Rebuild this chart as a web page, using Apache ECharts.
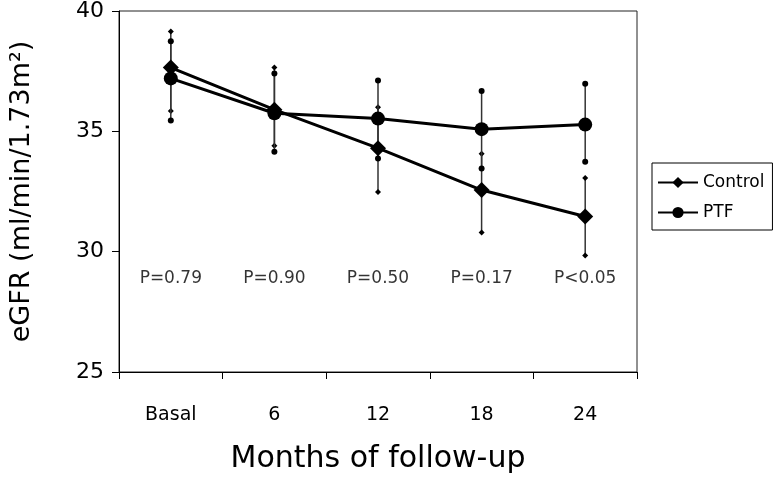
<!DOCTYPE html>
<html>
<head>
<meta charset="utf-8">
<script src="https://cdn.jsdelivr.net/npm/echarts@6/dist/echarts.min.js"></script>
<style>html,body{margin:0;padding:0;background:#fff}#c{width:780px;height:479px}</style>
</head>
<body>
<div id="c"></div>
<script>
const categories = ['Basal', '6', '12', '18', '24'];
const controlMean  = [37.65, 35.90, 34.30, 32.56, 31.46];
const controlUpper = [39.15, 37.65, 36.00, 34.07, 33.06];
const controlLower = [35.85, 34.40, 32.48, 30.80, 29.84];
const ptfMean  = [37.20, 35.75, 35.53, 35.09, 35.28];
const ptfUpper = [38.74, 37.40, 37.11, 36.68, 36.98];
const ptfLower = [35.45, 34.15, 33.87, 33.46, 33.74];
const pLabels = ['P=0.79', 'P=0.90', 'P=0.50', 'P=0.17', 'P<0.05'];
const pLabelLevel = 28.9;
const yTicks = [25, 30, 35, 40];

const FONT = 'DejaVu Sans';

function errData(lower, upper) {
  return categories.map((c, i) => [i, lower[i], upper[i]]);
}
function errRender(capShape) {
  return function (params, api) {
    const i = api.value(0);
    const lo = api.coord([i, api.value(1)]);
    const hi = api.coord([i, api.value(2)]);
    const s = 3;
    const cap = (p) => capShape === 'circle'
      ? { type: 'circle', shape: { cx: p[0], cy: p[1], r: 3 }, style: { fill: '#000' } }
      : { type: 'polygon', shape: { points: [[p[0], p[1] - s], [p[0] + s, p[1]], [p[0], p[1] + s], [p[0] - s, p[1]]] }, style: { fill: '#000' } };
    return {
      type: 'group',
      children: [
        { type: 'line', shape: { x1: lo[0], y1: lo[1], x2: hi[0], y2: hi[1] }, style: { stroke: '#333', lineWidth: 1.5 } },
        cap(lo), cap(hi)
      ]
    };
  };
}

const chart = echarts.init(document.getElementById('c'), null, { renderer: 'canvas' });
chart.setOption({
  animation: false,
  backgroundColor: '#fff',
  grid: { left: 117, right: 143, top: 10, bottom: 99, show: true, borderColor: '#222', borderWidth: 1 },
  legend: {
    data: ['Control', 'PTF'],
    orient: 'vertical',
    left: 652, top: 163,
    padding: [11, 8, 9, 5],
    itemGap: 13,
    itemWidth: 40, itemHeight: 14,
    itemTextGap: 3,
    borderColor: '#000', borderWidth: 1, borderRadius: 0,
    textStyle: { fontFamily: FONT, fontSize: 17, color: '#000' }
  },
  xAxis: {
    type: 'category',
    data: categories,
    boundaryGap: true,
    axisLine: { lineStyle: { color: '#000', width: 1 } },
    axisTick: { show: true, inside: false, length: 7, lineStyle: { color: '#000' } },
    axisLabel: { color: '#000', fontFamily: FONT, fontSize: 19, margin: 34 },
    name: 'Months of follow-up',
    nameLocation: 'middle',
    nameGap: 72,
    nameTextStyle: { color: '#000', fontFamily: FONT, fontSize: 30 }
  },
  yAxis: {
    type: 'value',
    min: yTicks[0], max: yTicks[yTicks.length - 1], interval: 5,
    splitLine: { show: false },
    axisLine: { show: true, lineStyle: { color: '#000', width: 1 } },
    axisTick: { show: true, length: 7, lineStyle: { color: '#000' } },
    axisLabel: { color: '#000', fontFamily: FONT, fontSize: 22, margin: 15 },
    name: 'eGFR (ml/min/1.73m²)',
    nameLocation: 'middle',
    nameGap: 84,
    nameTextStyle: { color: '#000', fontFamily: FONT, fontSize: 27 }
  },
  series: [
    { name: 'ControlErr', type: 'custom', renderItem: errRender('diamond'), data: errData(controlLower, controlUpper), z: 1, silent: true, encode: { x: 0, y: [1, 2] } },
    { name: 'PTFErr', type: 'custom', renderItem: errRender('circle'), data: errData(ptfLower, ptfUpper), z: 1, silent: true, encode: { x: 0, y: [1, 2] } },
    {
      name: 'Control', type: 'line', data: controlMean,
      symbol: 'diamond', symbolSize: 16,
      itemStyle: { color: '#000' },
      lineStyle: { color: '#000', width: 3 }, z: 3
    },
    {
      name: 'PTF', type: 'line', data: ptfMean,
      symbol: 'circle', symbolSize: 14,
      itemStyle: { color: '#000' },
      lineStyle: { color: '#000', width: 3 }, z: 3
    },
    {
      name: 'P', type: 'scatter', symbolSize: 0, silent: true,
      data: categories.map((c, i) => [i, pLabelLevel]),
      label: {
        show: true, position: 'inside',
        formatter: (p) => pLabels[p.dataIndex],
        color: '#000', fontFamily: FONT, fontSize: 17
      }
    }
  ]
});
</script>
</body>
</html>
